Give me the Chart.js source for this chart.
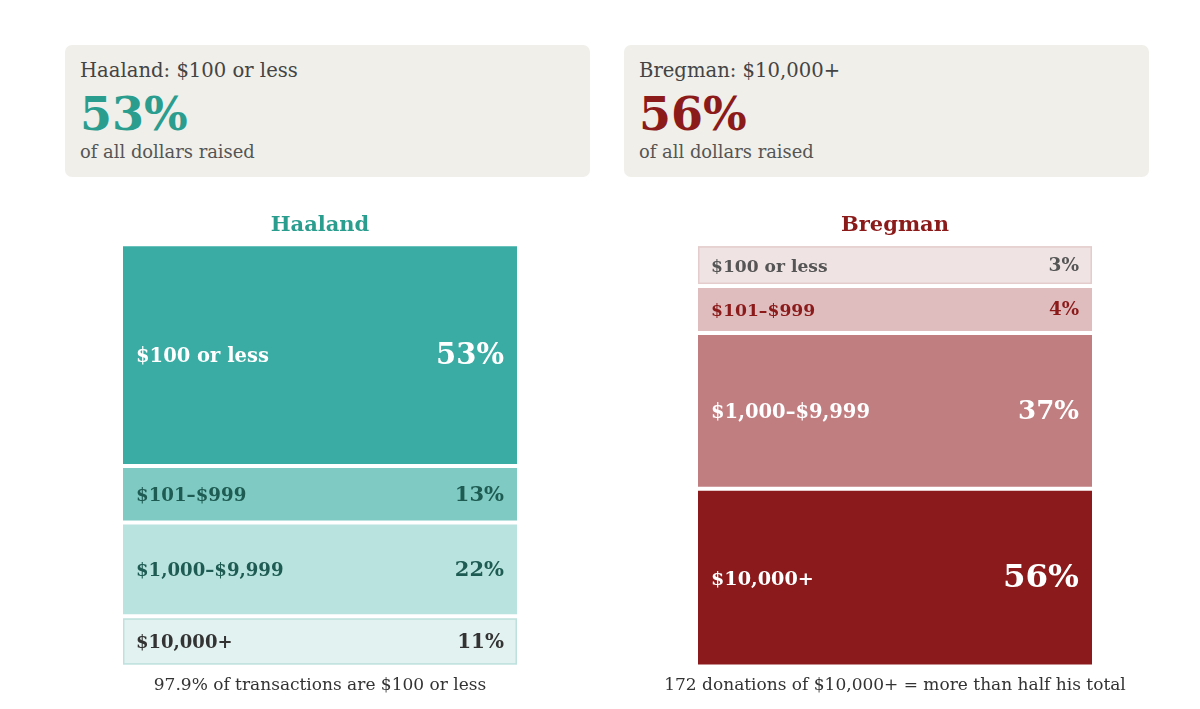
<!DOCTYPE html>
<html>
<head>
<meta charset="utf-8">
<script src="https://cdn.jsdelivr.net/npm/chart.js@4/dist/chart.umd.min.js"></script>
<style>
  html, body { margin: 0; padding: 0; background: #ffffff; }
  body { width: 1200px; height: 709px; position: relative; overflow: hidden;
         font-family: 'DejaVu Serif', serif; color: #444; }
  .card { position: absolute; top: 45px; width: 525px; height: 132px;
          background: #f0efe9; border-radius: 7px; }
  .card div { position: absolute; left: 15px; white-space: nowrap; }
  .card .head { top: 14px; font-size: 19.6px; line-height: 24px; color: #444; }
  .card .big  { top: 44px; font-size: 46px; line-height: 50px; font-weight: bold; }
  .card .sub  { top: 96px; font-size: 17.9px; line-height: 22px; color: #555; }
  .chartbox { position: absolute; top: 210px; width: 560px; height: 490px; }
</style>
</head>
<body>

<div class="card" style="left:65px">
  <div class="head">Haaland: $100 or less</div>
  <div class="big" style="color:#2a9d8f">53%</div>
  <div class="sub">of all dollars raised</div>
</div>
<div class="card" style="left:624px">
  <div class="head">Bregman: $10,000+</div>
  <div class="big" style="color:#8b1a1a">56%</div>
  <div class="sub">of all dollars raised</div>
</div>

<div class="chartbox" style="left:40px"><canvas id="haaland"></canvas></div>
<div class="chartbox" style="left:615px"><canvas id="bregman"></canvas></div>

<script>
// donation brackets, top of the bar first
const brackets = ['$100 or less', '$101–$999', '$1,000–$9,999', '$10,000+'];

// share of dollars raised (what the labels say)
const haalandPct = [53, 13, 22, 11];
const bregmanPct = [3, 4, 37, 56];

// segment heights as drawn, % of bar (small brackets get a minimum height)
const haalandBarSize = [52.5, 13.4, 22.2, 11.9];
const bregmanBarSize = [9.9, 11.1, 36.9, 42.1];

const haalandFill = ['#3aaca4', '#7fcac3', '#b9e3df', '#e2f2f0'];
const haalandText = ['#ffffff', '#1e5b52', '#1e5b52', '#333333'];
const bregmanFill = ['#f0e3e3', '#dfbdbe', '#c07e80', '#8a1a1b'];
const bregmanText = ['#555555', '#8b1a1a', '#ffffff', '#ffffff'];

// font sizes of the bracket name / the percentage in each segment
const haalandNameFont = [19.5, 18.2, 18.1, 18];
const haalandPctFont  = [29, 21, 21, 20];
const bregmanNameFont = [17.1, 17.2, 19.5, 19.2];
const bregmanPctFont  = [18.5, 18.3, 26, 32.5];

const FONT = "'DejaVu Serif', serif";
const BAR_SHARE = 394 / 560;  // bar width vs canvas width

/** Draws bracket name (left) and percentage (right) inside every segment */
const segmentLabels = {
  id: 'segmentLabels',
  afterDatasetsDraw(chart) {
    const ctx = chart.ctx;
    chart.data.datasets.forEach((ds, i) => {
      const el = chart.getDatasetMeta(i).data[0];
      if (!el) return;
      const left = el.x - el.width / 2, right = el.x + el.width / 2;
      const top = Math.min(el.y, el.base) + 2, bottom = Math.max(el.y, el.base) - 2;
      const mid = (top + bottom) / 2;

      if (ds.outline) {
        ctx.save();
        ctx.strokeStyle = ds.outline;
        ctx.lineWidth = 1.5;
        ctx.strokeRect(left + 0.75, top + 0.75, right - left - 1.5, bottom - top - 1.5);
        ctx.restore();
      }

      ctx.save();
      ctx.fillStyle = ds.textColor;
      ctx.textBaseline = 'middle';
      ctx.font = `bold ${ds.nameFont}px ${FONT}`;
      ctx.textAlign = 'left';
      ctx.fillText(ds.label, left + 13, mid + 2);
      ctx.font = `bold ${ds.pctFont}px ${FONT}`;
      ctx.textAlign = 'right';
      ctx.fillText(ds.pct + '%', right - 13, mid + 1);
      ctx.restore();
    });
  },
};

function buildChart(canvasId, name, nameColor, caption, pct, size, fill, text, outline, nameFont, pctFont) {
  // stacked bars draw the first dataset at the bottom, so reverse
  const datasets = brackets.map((b, i) => ({
    label:           b,
    data:            [size[i]],
    pct:             pct[i],
    textColor:       text[i],
    outline:         outline[i],
    nameFont:        nameFont[i],
    pctFont:         pctFont[i],
    backgroundColor: fill[i],
    borderColor:     '#ffffff',
    borderWidth:     { top: 2, bottom: 2, left: 0, right: 0 },
    borderSkipped:   false,
    borderRadius:    0,
    barPercentage:      1,
    categoryPercentage: BAR_SHARE,
  })).reverse();

  return new Chart(document.getElementById(canvasId), {
    type: 'bar',
    data: { labels: [name], datasets },
    options: {
      responsive: true,
      maintainAspectRatio: false,
      animation: false,
      layout: { padding: 0 },
      plugins: {
        legend:  { display: false },
        tooltip: { enabled: false },
        title: {
          display: true,
          text: name,
          color: nameColor,
          font: { family: FONT, size: 21, weight: 'bold', lineHeight: 1.2 },
          padding: { top: 3, bottom: 6 },
        },
        subtitle: {
          display: true,
          position: 'bottom',
          text: caption,
          color: '#333333',
          font: { family: FONT, size: 17, lineHeight: 1.2 },
          padding: { top: 9, bottom: 4 },
        },
      },
      scales: {
        x: { stacked: true, display: false },
        y: { stacked: true, display: false, min: 0,
             max: size.reduce((a, b) => a + b, 0) },
      },
    },
    plugins: [segmentLabels],
  });
}

buildChart('haaland', 'Haaland', '#2a9d8f', '97.9% of transactions are $100 or less',
  haalandPct, haalandBarSize, haalandFill, haalandText, [null, null, null, '#bfe1dd'],
  haalandNameFont, haalandPctFont);
buildChart('bregman', 'Bregman', '#8b1a1a', '172 donations of $10,000+ = more than half his total',
  bregmanPct, bregmanBarSize, bregmanFill, bregmanText, ['#e4cccc', null, null, null],
  bregmanNameFont, bregmanPctFont);
</script>
</body>
</html>
